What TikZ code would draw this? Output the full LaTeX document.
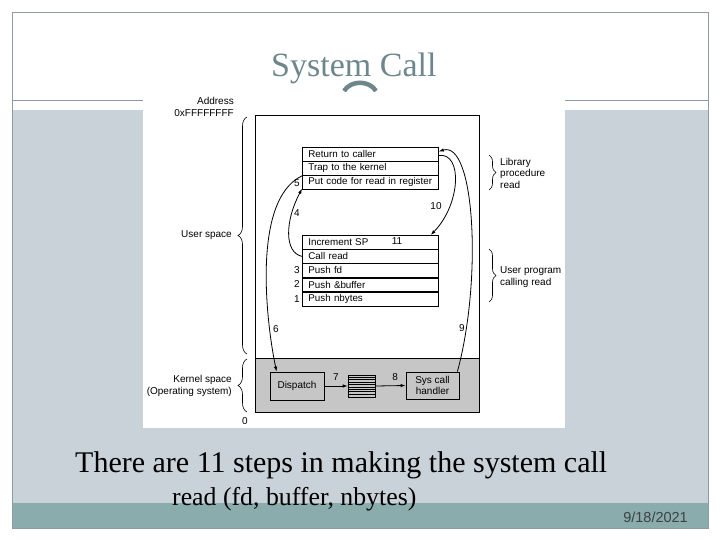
\documentclass[tikz,border=0pt]{standalone}
\usepackage{fontspec}
\setmainfont{Liberation Serif}
\newfontfamily\diagf{Liberation Sans}
\usetikzlibrary{arrows.meta,decorations.pathreplacing}
\definecolor{bandc}{RGB}{200,210,216}
\definecolor{tealc}{RGB}{138,172,172}
\definecolor{framec}{RGB}{140,156,160}
\definecolor{titlec}{RGB}{110,135,140}
\definecolor{kernc}{RGB}{198,198,198}
\definecolor{datec}{RGB}{60,66,68}
\tikzset{
  dtext/.style={font=\diagf\fontsize{10}{11.5}\selectfont, inner sep=0pt},
  rowbox/.style={draw, line width=0.8pt, minimum height=14pt, inner xsep=6pt, inner ysep=0pt,
     text width=124pt, align=left, font=\diagf\fontsize{9.8}{11}\selectfont},
  kbox/.style={draw, line width=0.8pt, minimum width=54pt, minimum height=28pt, inner sep=0pt,
     align=center, font=\diagf\fontsize{10}{11.5}\selectfont},
  arr/.style={line width=0.8pt, -{Latex[length=5pt,width=3.5pt]}},
  bracel/.style={line width=0.6pt, decorate, decoration={brace, amplitude=9pt}},
  bracer/.style={line width=0.6pt, decorate, decoration={brace, amplitude=7pt}},
}
\begin{document}
\begin{tikzpicture}[x=1pt,y=-1pt]
\useasboundingbox (0,0) rectangle (720,540);
\fill[white] (0,0) rectangle (720,540);
% slide background
\fill[bandc] (12,110) rectangle (708,503);
\fill[tealc] (12,503) rectangle (708,528);
\draw[framec, line width=0.8pt] (12,12) rectangle (708,528);
\draw[framec, line width=0.8pt] (12,100) -- (708,100);
% title
\node[anchor=base west, inner sep=0pt, text=titlec, font=\fontsize{34}{40}\selectfont] (title) at (271,77) {System Call};
\draw[titlec, line width=4.5pt] (344,91) .. controls (351,80) and (369,80) .. (376,91);
% picture area
\fill[white] (143,92) rectangle (565,428);
% memory
\draw[line width=0.8pt] (255,115) rectangle (479,412);
\filldraw[fill=kernc, line width=0.8pt] (255,358) rectangle (479,412);
% left labels
\node[dtext, anchor=base east] (addr) at (234,105) {Address};
\node[dtext, anchor=base east] (top) at (234,117) {0xFFFFFFFF};
\node[dtext, anchor=east] (us) at (232,235) {User space};
\node[dtext, anchor=east, align=right] (ks) at (232,386) {Kernel space\\(Operating system)};
\node[dtext] (zero) at (245,421) {0};
\draw[bracel] (247,354) -- (247,117);
\draw[bracel] (247,412) -- (247,359);
% library procedure rows
\node[rowbox, anchor=north west] (ret) at (302,147) {Return to caller};
\node[rowbox, anchor=north west] (trap) at (302,161) {Trap to the kernel};
\node[rowbox, anchor=north west] (put) at (302,175) {Put code for read in register};
% user program rows
\node[rowbox, anchor=north west] (inc) at (302,235) {Increment SP};
\node[rowbox, anchor=north west] (call) at (302,249) {Call read};
\node[rowbox, anchor=north west] (pfd) at (302,263) {Push fd};
\node[rowbox, anchor=north west] (pbuf) at (302,277.5) {Push \&buffer};
\node[rowbox, anchor=north west] (pnb) at (302,292) {Push nbytes};
\draw[line width=1.4pt] (pnb.north west) -- (pnb.north east);
% right braces and labels
\draw[bracer] (489,155) -- (489,190);
\node[dtext, anchor=west, align=left] (lib) at (500,173) {Library\\procedure\\read};
\draw[bracer] (489,249) -- (489,302);
\node[dtext, anchor=west, align=left] (upr) at (500,277) {User program\\calling read};
% kernel boxes
\node[kbox] (disp) at (297,386) {Dispatch};
\node[draw, line width=0.8pt, minimum width=27pt, minimum height=22pt, inner sep=0pt] (tab) at (361.5,386) {};
\foreach \k in {1,...,8} \draw[line width=0.6pt] ([yshift=-\k*2.45pt]tab.north west) -- ([yshift=-\k*2.45pt]tab.north east);
\node[kbox, minimum width=53pt, minimum height=27pt] (sch) at (432.5,385.5) {Sys call\\handler};
% step numbers
\node[dtext] (n1) at (297,299) {1};
\node[dtext] (n2) at (297,284.5) {2};
\node[dtext] (n3) at (297,270) {3};
\node[dtext] (n4) at (297,213) {4};
\node[dtext] (n5) at (297,183) {5};
\node[dtext] (n6) at (276,329) {6};
\node[dtext] (n9) at (462,328) {9};
\node[dtext] (n10) at (436,206) {10};
\node[dtext] (n11) at (397,241) {11};
% arrows
\draw[arr] (disp.east) -- node[dtext, above=5pt, pos=0.5] {7} (tab.west);
\draw[arr] (tab.east) -- node[dtext, above=5pt, pos=0.65] {8} (sch.west);
\draw[arr] (call.west) .. controls +(-18,-4) and +(-17,32) .. ([yshift=1pt]put.south west);
\draw[arr] (trap.south west) .. controls +(-52,25) and +(-9,-42) .. ([xshift=7pt]disp.north west);
\draw[arr] ([xshift=-2pt]sch.north east) .. controls +(25,-92) and +(36,-11) .. ([yshift=3pt]ret.east);
\draw[arr] ([yshift=-1pt]ret.east) .. controls +(24,-3) and +(30,-31) .. ([xshift=-8pt]inc.north east);
% bottom texts
\node[anchor=base west, inner sep=0pt, font=\fontsize{30}{36}\selectfont] (cap1) at (75,472) {There are 11 steps in making the system call};
\node[anchor=base west, inner sep=0pt, font=\fontsize{25.8}{30}\selectfont] (cap2) at (172,505) {read (fd, buffer, nbytes)};
\node[anchor=base east, inner sep=0pt, text=datec, font=\diagf\fontsize{14.5}{16}\selectfont] (date) at (688,522) {9/18/2021};
\end{tikzpicture}
\end{document}
